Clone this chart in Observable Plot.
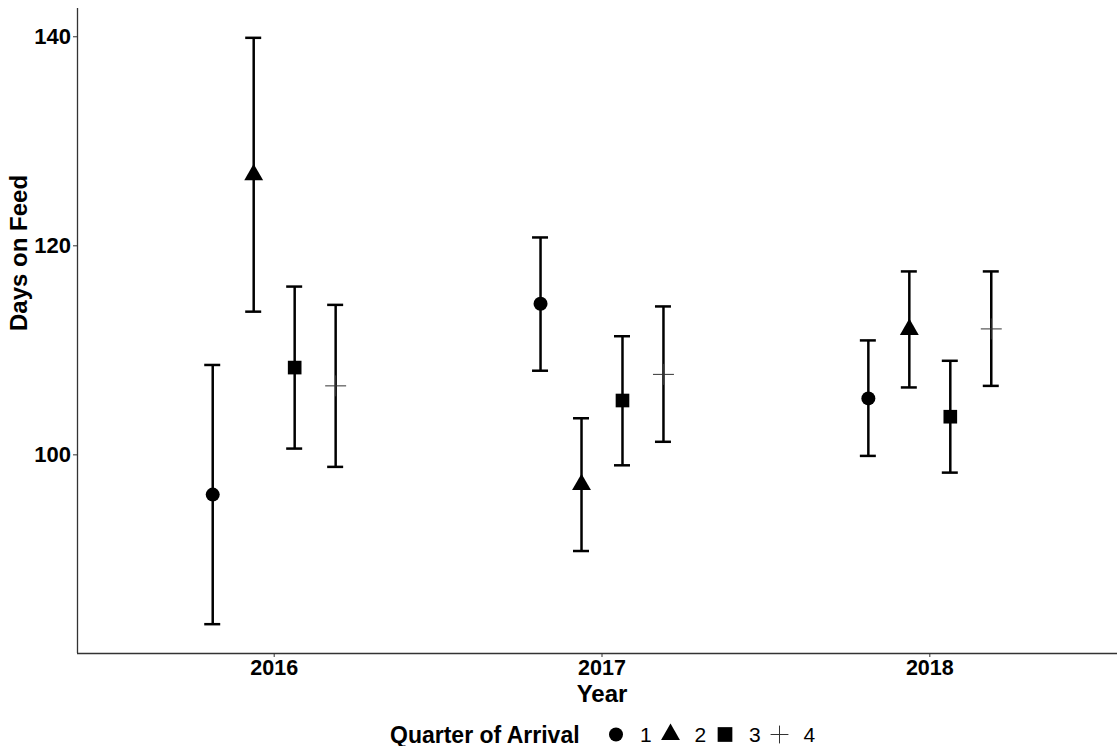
<!DOCTYPE html>
<html>
<head>
<meta charset="utf-8">
<script src="https://cdn.jsdelivr.net/npm/d3@7"></script>
<script src="https://cdn.jsdelivr.net/npm/@observablehq/plot@0.6"></script>
<style>
  html, body { margin: 0; padding: 0; background: #fff; overflow: hidden; }
  body { font-family: "Liberation Sans", Arial, sans-serif; width: 1117px; height: 746px; position: relative; }
  #chart svg { display: block; max-width: none !important; }
  #chart [aria-label="y-axis tick label"], #chart [aria-label="x-axis tick label"] { font-weight: bold; }
  #legend { position: absolute; left: 0; top: 705px; display: block; }
</style>
</head>
<body>
<div id="chart"></div>
<svg id="legend" width="1117" height="41"></svg>
<script>
// ---- data ----
const yearCol    = [2016, 2016, 2016, 2016, 2017, 2017, 2017, 2017, 2018, 2018, 2018, 2018];
const quarterCol = [1, 2, 3, 4, 1, 2, 3, 4, 1, 2, 3, 4];
const meanDays   = [96.2, 126.8, 108.35, 106.6, 114.45, 97.15, 105.2, 107.7, 105.4, 112.0, 103.65, 112.05];
const lowerDays  = [83.8, 113.7, 100.6, 98.85, 108.05, 90.8, 99.0, 101.25, 99.9, 106.45, 98.3, 106.6];
const upperDays  = [108.6, 139.9, 116.1, 114.35, 120.8, 103.5, 111.35, 114.2, 110.95, 117.55, 109.0, 117.55];
const years = [2016, 2017, 2018];
const quarters = [1, 2, 3, 4];
const yTicks = [100, 120, 140];
const quarterSymbols = ["circle", "triangle", "square", "plus"];

// ---- styles ----
const symbolRadius = [7, 7, 7.7, 6.8];
const legendRadius = [7, 7, 8.3, 5.8];
const dodgeWidth = 0.5;   // ggplot position_dodge(width = 0.5)
const capHalf = 0.0244;   // half width of error-bar caps (x units)
const dodge = q => (q - (quarters.length + 1) / 2) * dodgeWidth / quarters.length;

const rows = yearCol.map((y, i) => ({
  year: y,
  quarter: quarterCol[i],
  x: y + dodge(quarterCol[i]),
  mean: meanDays[i],
  lo: lowerDays[i],
  hi: upperDays[i]
}));

const yMin = d3.min(lowerDays), yMax = d3.max(upperDays);
const yPad = (yMax - yMin) * 0.05;
const yDomain = [yMin - yPad, yMax + yPad];
const xDomain = [d3.min(years) - 0.6, d3.max(years) + 0.6];

const pointMarks = quarters.map((q, i) => {
  const subset = rows.filter(d => d.quarter === q);
  return quarterSymbols[i] === "plus"
    ? Plot.dot(subset, { x: "x", y: "mean", symbol: quarterSymbols[i], r: symbolRadius[i], fill: "none", stroke: "#333", strokeWidth: 1 })
    : Plot.dot(subset, { x: "x", y: "mean", symbol: quarterSymbols[i], r: symbolRadius[i], fill: "#000", stroke: "none" });
});

const chart = Plot.plot({
  width: 1126,
  height: 705,
  marginLeft: 77,
  marginRight: 0,
  marginTop: 8,
  marginBottom: 52,
  style: { fontFamily: "Liberation Sans, Arial, sans-serif", color: "#000", background: "#fff", overflow: "visible", maxWidth: "none" },
  x: { domain: xDomain, label: null },
  y: { domain: yDomain, label: null },
  marks: [
    Plot.axisY({ ticks: yTicks, tickSize: 4, tickPadding: 2.5, fontSize: 22, fontWeight: "bold", label: null, stroke: "#333" }),
    Plot.axisX({ ticks: years, tickFormat: d => String(d), tickSize: 4, tickPadding: 2, fontSize: 21.5, fontWeight: "bold", label: null, stroke: "#333" }),
    Plot.ruleX([xDomain[0]], { stroke: "#333", strokeWidth: 1.3 }),
    Plot.ruleY([yDomain[0]], { stroke: "#333", strokeWidth: 1.3 }),
    // error bars
    Plot.ruleX(rows, { x: "x", y1: "lo", y2: "hi", stroke: "#000", strokeWidth: 2.5 }),
    Plot.ruleY(rows, { y: "hi", x1: d => d.x - capHalf, x2: d => d.x + capHalf, stroke: "#000", strokeWidth: 2.5 }),
    Plot.ruleY(rows, { y: "lo", x1: d => d.x - capHalf, x2: d => d.x + capHalf, stroke: "#000", strokeWidth: 2.5 }),
    // points
    ...pointMarks,
    // axis titles
    Plot.text(["Year"], { frameAnchor: "bottom", dy: 48, fontSize: 24, fontWeight: "bold", fill: "#000" }),
    Plot.text(["Days on Feed"], { frameAnchor: "left", dx: -58, rotate: -90, fontSize: 24, fontWeight: "bold", fill: "#000" })
  ]
});
document.getElementById("chart").appendChild(chart);

// ---- legend ----
const legend = d3.select("#legend");
const legendY = 29.5;
legend.append("text")
  .attr("x", 390).attr("y", legendY + 8)
  .attr("font-family", "Liberation Sans, Arial, sans-serif")
  .attr("font-size", 23).attr("font-weight", "bold").attr("fill", "#000")
  .text("Quarter of Arrival");
const symbolMap = { circle: d3.symbolCircle, triangle: d3.symbolTriangle, square: d3.symbolSquare, plus: d3.symbolPlus };
const legendX0 = 616, legendStep = 54.5;
quarters.forEach((q, i) => {
  const cx = legendX0 + i * legendStep;
  const name = quarterSymbols[i];
  const p = legend.append("path")
    .attr("transform", `translate(${cx},${legendY})`)
    .attr("d", d3.symbol(symbolMap[name], legendRadius[i] * legendRadius[i] * Math.PI)());
  if (name === "plus") p.attr("fill", "none").attr("stroke", "#333").attr("stroke-width", 1);
  else p.attr("fill", "#000");
  legend.append("text")
    .attr("x", cx + 24).attr("y", legendY + 7.5)
    .attr("font-family", "Liberation Sans, Arial, sans-serif")
    .attr("font-size", 21).attr("fill", "#000")
    .text(String(q));
});
</script>
</body>
</html>
